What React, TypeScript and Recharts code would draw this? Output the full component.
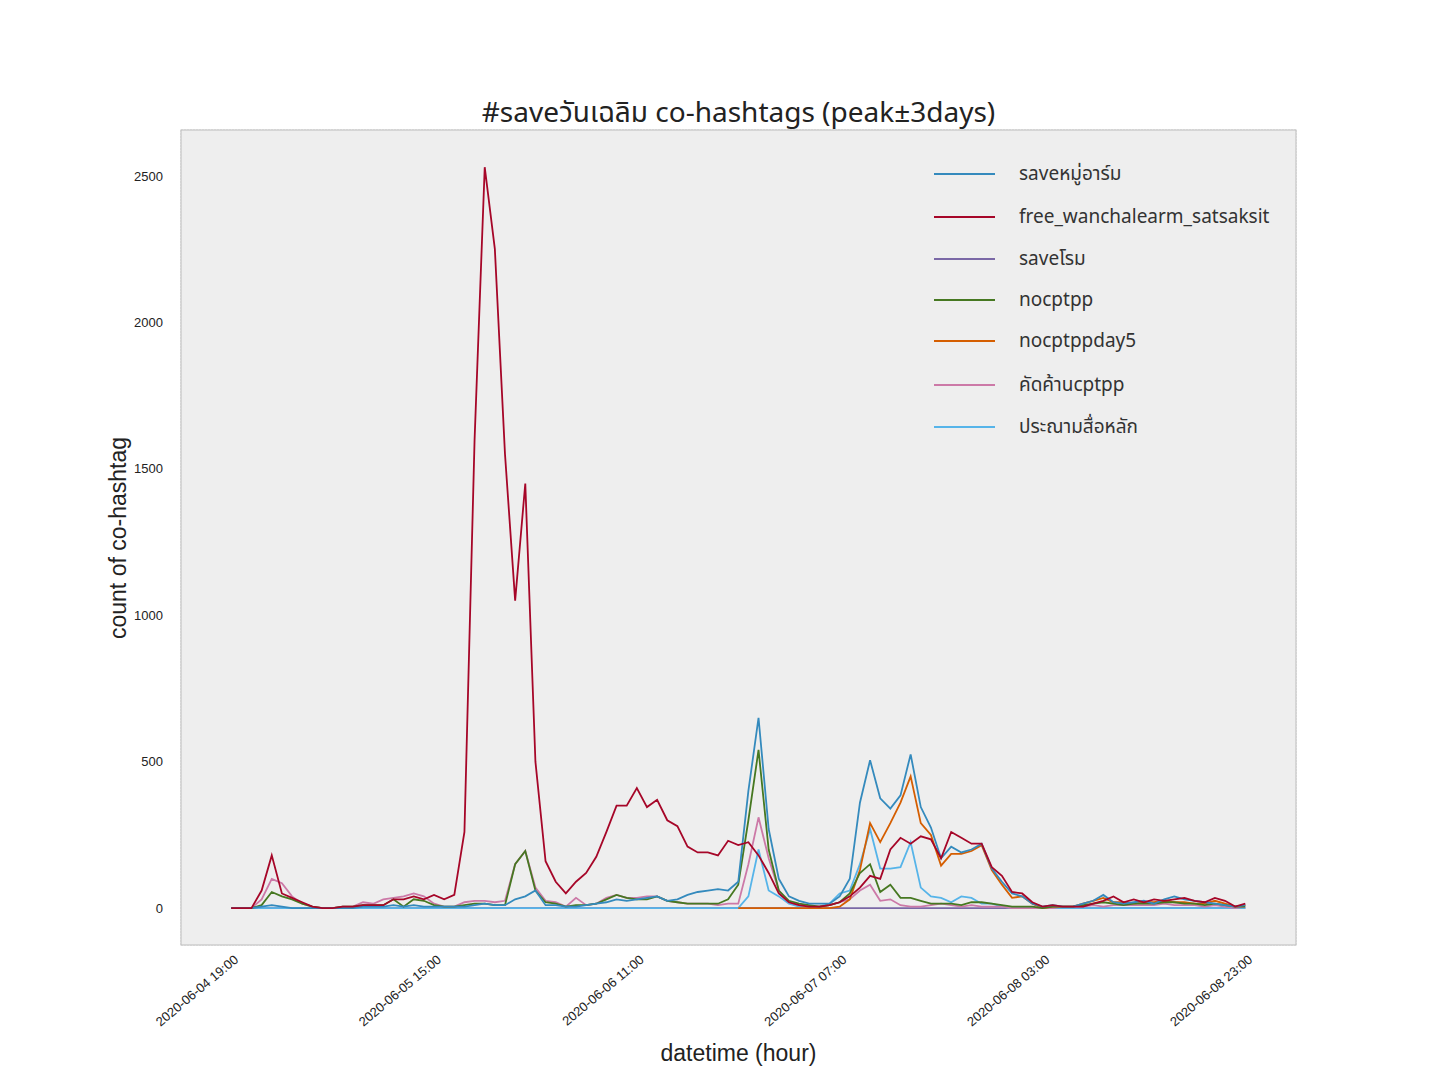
import { LineChart, Line, XAxis, YAxis, CartesianGrid } from "recharts";

const startLabels = ["2020-06-04 19:00", "2020-06-05 15:00", "2020-06-06 11:00", "2020-06-07 07:00", "2020-06-08 03:00", "2020-06-08 23:00"];
const tickIdx = [0, 20, 40, 60, 80, 100];
const yTicks = [0, 500, 1000, 1500, 2000, 2500];

const saveMooArm = [
  0,0,0,5,10,5,0,0,0,0,
  0,0,0,5,5,5,10,5,10,5,
  5,5,5,5,10,15,10,10,30,40,
  60,10,10,5,5,10,15,20,30,25,
  30,35,40,25,30,45,55,60,65,60,
  90,400,650,270,100,40,25,15,15,15,
  40,100,360,505,375,340,385,525,345,275,
  170,210,190,200,220,135,90,50,40,15,
  5,10,5,5,15,25,45,20,15,20,
  25,15,30,40,30,25,20,15,10,5,
  10];
const freeWanchalearm = [
  0,0,0,60,180,50,35,20,5,0,
  0,5,5,10,10,10,30,30,40,30,
  45,30,45,260,1600,2530,2250,1550,1050,1450,
  500,160,90,50,90,120,175,260,350,350,
  410,345,370,300,280,210,190,190,180,230,
  215,225,180,120,50,20,10,5,5,10,
  20,40,70,110,100,200,240,220,245,235,
  170,260,240,220,220,140,110,55,50,20,
  5,10,5,5,5,15,25,40,20,30,
  20,30,25,30,35,25,20,35,25,5,
  15];
const saveRome = Array.from({ length: 101 }, () => 0);
const nocptpp = [
  0,0,0,10,55,40,30,15,5,0,
  0,5,5,10,10,10,30,5,30,25,
  10,5,5,10,15,15,10,10,150,195,
  60,20,15,5,10,10,15,30,45,35,
  30,30,40,25,20,15,15,15,15,30,
  80,300,540,200,60,25,15,10,5,10,
  20,50,120,150,55,80,35,35,25,15,
  15,15,10,20,20,15,10,5,5,5,
  0,5,5,5,10,15,20,15,10,15,
  15,15,20,20,15,15,10,15,10,5,
  5];
const nocptppday5: (number | null)[] = [
  null,null,null,null,null,null,null,null,null,null,
  null,null,null,null,null,null,null,null,null,null,
  null,null,null,null,null,null,null,null,null,null,
  null,null,null,null,null,null,null,null,null,null,
  null,null,null,null,null,null,null,null,null,null,
  0,0,0,0,0,0,0,0,0,0,
  5,30,130,290,225,290,360,450,290,250,
  145,185,185,195,215,130,80,35,40,15,
  0,5,5,5,15,25,35,20,20,15,
  20,20,25,20,20,15,15,25,15,5,
  10];
const kadkan = [
  0,0,0,30,100,85,40,15,5,0,
  0,5,5,20,15,30,35,40,50,40,
  15,5,5,20,25,25,20,25,150,195,
  70,25,20,5,35,10,15,35,45,35,
  35,40,40,25,20,15,15,15,10,15,
  15,150,310,170,60,20,10,5,5,10,
  20,30,60,80,25,30,10,5,5,10,
  15,10,5,10,5,5,5,0,0,0,
  0,0,5,5,5,10,5,10,10,10,
  10,10,15,10,10,10,5,10,5,0,
  5];
const pranam = [
  0,0,0,0,0,0,0,0,0,0,
  0,0,0,0,0,0,0,0,0,0,
  0,0,0,0,0,0,0,0,0,0,
  0,0,0,0,0,0,0,0,0,0,
  0,0,0,0,0,0,0,0,0,0,
  0,40,200,60,40,15,5,5,5,15,
  50,60,150,270,135,135,140,225,70,40,
  35,20,40,35,15,15,5,0,0,0,
  0,0,0,0,0,0,0,0,0,0,
  0,0,0,0,0,0,0,0,0,0,
  0];

const series = [
  { key: "a", name: "saveหมู่อาร์ม", color: "#348ABD", values: saveMooArm },
  { key: "b", name: "free_wanchalearm_satsaksit", color: "#A60628", values: freeWanchalearm },
  { key: "c", name: "saveโรม", color: "#7A68A6", values: saveRome },
  { key: "d", name: "nocptpp", color: "#467821", values: nocptpp },
  { key: "e", name: "nocptppday5", color: "#D55E00", values: nocptppday5 },
  { key: "f", name: "คัดค้านcptpp", color: "#CC79A7", values: kadkan },
  { key: "g", name: "ประณามสื่อหลัก", color: "#56B4E9", values: pranam },
];

const data = saveMooArm.map((_, i) => {
  const row: any = { i };
  series.forEach((s) => (row[s.key] = s.values[i]));
  return row;
});

const drawOrder = ["c", "g", "f", "e", "d", "a", "b"];

const RotTick = (props: any) => {
  const { x, y, payload } = props;
  const label = startLabels[tickIdx.indexOf(payload.value)];
  return (
    <text x={x + 8} y={y + 8} transform={`rotate(-40 ${x + 8} ${y + 8})`} textAnchor="end" fontSize={13} fill="#222" fontFamily="Liberation Sans, Arial">
      {label}
    </text>
  );
};

export default function App() {
  const font = "'Noto Sans Thai', 'Noto Sans', 'DejaVu Sans', sans-serif";
  return (
    <div style={{ position: "relative", width: 1440, height: 1080, margin: -8, background: "#fff" }}>
      <div style={{ position: "absolute", top: 92, left: 181, width: 1115, textAlign: "center", fontSize: 28, fontFamily: font, color: "#222" }}>
        #saveวันเฉลิม co-hashtags (peak±3days)
      </div>
      <LineChart width={1440} height={1080} data={data} margin={{ top: 130, right: 144, left: 121, bottom: 35 }}>
        <rect x={181} y={130} width={1115} height={815} fill="#eeeeee" />
        <CartesianGrid stroke="#d0d0d0" strokeDasharray="2 1" strokeWidth={0.8} />
        <XAxis dataKey="i" type="number" domain={[-4.95, 105]} ticks={tickIdx} tick={<RotTick />} interval={0} axisLine={false} tickLine={false} height={100} />
        <YAxis domain={[-126, 2657]} ticks={yTicks} width={60} axisLine={false} tickLine={false} tick={{ fontSize: 13, fill: "#222", fontFamily: "Liberation Sans, Arial" }} tickMargin={12} />
        {drawOrder.map((k) => {
          const s = series.find((x) => x.key === k)!;
          return <Line key={k} dataKey={k} stroke={s.color} strokeWidth={1.8} dot={false} isAnimationActive={false} type="linear" />;
        })}
        <rect x={181} y={130} width={1115} height={815} fill="none" stroke="#bcbcbc" />
      </LineChart>
      <div style={{ position: "absolute", left: 0, top: 1040, width: 1477, textAlign: "center", fontSize: 23, fontFamily: "Liberation Sans, Arial", color: "#222" }}>datetime (hour)</div>
      <div style={{ position: "absolute", left: 118, top: 538, transform: "translate(-50%, -50%) rotate(-90deg)", fontSize: 23, fontFamily: "Liberation Sans, Arial", color: "#222", whiteSpace: "nowrap" }}>count of co-hashtag</div>
      {series.map((s, j) => (
        <div key={s.key} style={{ position: "absolute", left: 934, top: [174, 217, 259, 300, 341, 385, 427][j] - 14, height: 28, display: "flex", alignItems: "center", fontFamily: font, fontSize: 19, color: "#333" }}>
          <div style={{ width: 61, height: 2, background: s.color, marginRight: 24 }} />
          {s.name}
        </div>
      ))}
    </div>
  );
}
